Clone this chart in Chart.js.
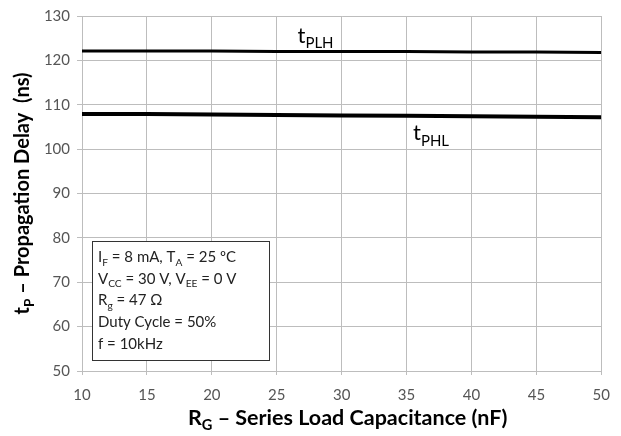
<!DOCTYPE html>
<html>
<head>
<meta charset="utf-8">
<script src="https://cdn.jsdelivr.net/npm/chart.js@4/dist/chart.umd.min.js"></script>
<style>
  html, body { margin: 0; padding: 0; background: #fff; }
  #wrap { width: 621px; height: 436px; }
</style>
</head>
<body>
<div id="wrap"><canvas id="delayChart" width="621" height="436"></canvas></div>
<script>
const capacitance = [10, 15, 20, 25, 30, 35, 40, 45, 50]
const tPLH = [122.1, 122.1, 122.1, 122.0, 122.0, 122.0, 121.9, 121.9, 121.8]
const tPHL = [107.9, 107.9, 107.8, 107.7, 107.6, 107.5, 107.4, 107.3, 107.2]
const yTicks = [50, 60, 70, 80, 90, 100, 110, 120, 130]
const xTicks = [10, 15, 20, 25, 30, 35, 40, 45, 50]
const notes = [
  [['I', ''], ['F', 'sub'], [' = 8 mA, T', ''], ['A', 'sub'], [' = 25 ºC', '']],
  [['V', ''], ['CC', 'sub'], [' = 30 V, V', ''], ['EE', 'sub'], [' = 0 V', '']],
  [['R', ''], ['g', 'sub'], [' = 47 Ω', '']],
  [['Duty Cycle = 50%', '']],
  [['f = 10kHz', '']]
]

const FONT = 'Lato, "Liberation Sans", sans-serif'

// draw a run of text pieces, some of them subscripts
function drawRich(ctx, parts, x, y, size, weight, align) {
  const sub = size * 0.68
  let total = 0
  parts.forEach(p => {
    ctx.font = weight + ' ' + (p[1] ? sub : size) + 'px ' + FONT
    total += ctx.measureText(p[0]).width
  })
  let cx = align === 'center' ? x - total / 2 : x
  ctx.textAlign = 'left'
  ctx.textBaseline = 'alphabetic'
  parts.forEach(p => {
    ctx.font = weight + ' ' + (p[1] ? sub : size) + 'px ' + FONT
    ctx.fillText(p[0], cx, p[1] ? y + size * 0.25 : y)
    cx += ctx.measureText(p[0]).width
  })
}

const labels = {
  id: 'labels',
  afterDraw(chart) {
    const ctx = chart.ctx
    const xs = chart.scales.x, ys = chart.scales.y
    ctx.save()
    ctx.fillStyle = '#000'
    // curve names
    drawRich(ctx, [['t', ''], ['PLH', 'sub']], xs.getPixelForValue(26.6), ys.getPixelForValue(124.0), 22, 'normal', 'left')
    drawRich(ctx, [['t', ''], ['PHL', 'sub']], xs.getPixelForValue(35.5), ys.getPixelForValue(102.0), 22, 'normal', 'left')
    // axis titles
    drawRich(ctx, [['R', ''], ['G', 'sub'], [' – Series Load Capacitance (nF)', '']], (xs.left + xs.right) / 2 + 6, 425, 21.5, 'bold', 'center')
    ctx.save()
    ctx.translate(29, (ys.top + ys.bottom) / 2)
    ctx.rotate(-Math.PI / 2)
    drawRich(ctx, [['t', ''], ['P', 'sub'], [' – Propagation Delay  (ns)', '']], 0, 0, 20, 'bold', 'center')
    ctx.restore()
    // condition box
    const bx = 92, by = 241, bw = 177, bh = 119
    ctx.fillStyle = '#fff'
    ctx.fillRect(bx, by, bw, bh)
    ctx.strokeStyle = '#333'
    ctx.lineWidth = 1
    ctx.strokeRect(bx + 0.5, by + 0.5, bw, bh)
    ctx.fillStyle = '#222'
    notes.forEach((line, i) => drawRich(ctx, line, bx + 6, by + 21 + i * 21.7, 15, 'normal', 'left'))
    ctx.restore()
  }
}

new Chart(document.getElementById('delayChart'), {
  type: 'line',
  data: {
    datasets: [
      {
        label: 'tPLH',
        data: capacitance.map((c, i) => ({ x: c, y: tPLH[i] })),
        borderColor: '#000',
        borderWidth: 3,
        pointRadius: 0,
        tension: 0,
        fill: false
      },
      {
        label: 'tPHL',
        data: capacitance.map((c, i) => ({ x: c, y: tPHL[i] })),
        borderColor: '#000',
        borderWidth: 4,
        pointRadius: 0,
        tension: 0,
        fill: false
      }
    ]
  },
  options: {
    responsive: false,
    animation: false,
    layout: { padding: { top: 16, right: 19, left: 0, bottom: 0 } },
    plugins: { legend: { display: false }, tooltip: { enabled: false } },
    scales: {
      x: {
        type: 'linear',
        min: 10, max: 50,
        afterBuildTicks: s => { s.ticks = xTicks.map(v => ({ value: v })) },
        afterFit: s => { s.height = 65 },
        grid: { color: '#bdbdbd', lineWidth: 1, tickLength: 4, drawTicks: true },
        border: { color: '#bdbdbd' },
        ticks: { color: '#555', font: { family: FONT, size: 15 }, padding: 11, maxRotation: 0 }
      },
      y: {
        min: 50, max: 130,
        afterBuildTicks: s => { s.ticks = yTicks.map(v => ({ value: v })) },
        afterFit: s => { s.width = 82 },
        grid: { color: '#bdbdbd', lineWidth: 1, tickLength: 5, drawTicks: true },
        border: { color: '#bdbdbd' },
        ticks: { color: '#555', font: { family: FONT, size: 15 }, padding: 7 }
      }
    }
  },
  plugins: [labels]
})
</script>
</body>
</html>
